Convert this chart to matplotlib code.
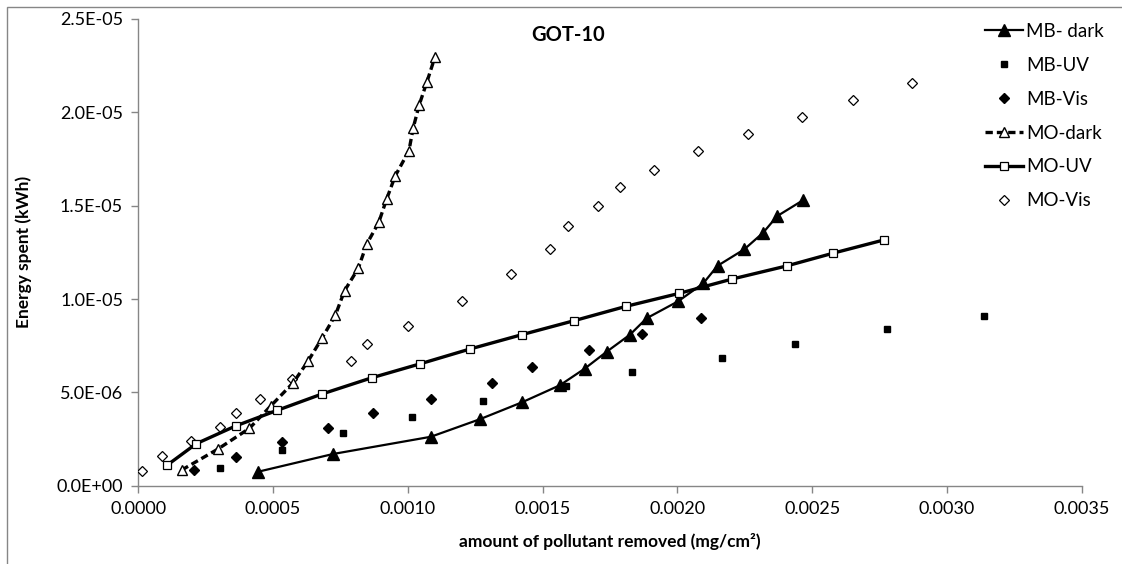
import matplotlib
matplotlib.use("Agg")
import matplotlib.pyplot as plt
from matplotlib.patches import Rectangle

plt.rcParams['font.family'] = ['Lato', 'DejaVu Sans']

# ---------------- data ----------------
mb_dark_x = [0.000445, 0.000723, 0.001085, 0.001267, 0.001424, 0.001564, 0.001656, 0.001738,
             0.001824, 0.001886, 0.002003, 0.002096, 0.002149, 0.002248, 0.002318, 0.002370, 0.002467]
mb_dark_y = [7.5e-7, 1.70e-6, 2.62e-6, 3.56e-6, 4.47e-6, 5.38e-6, 6.27e-6, 7.18e-6,
             8.09e-6, 8.97e-6, 9.88e-6, 1.084e-5, 1.178e-5, 1.266e-5, 1.355e-5, 1.444e-5, 1.53e-5]

mb_uv_x = [0.000302, 0.000533, 0.000759, 0.001014, 0.001279, 0.001585, 0.001831, 0.002165,
           0.002436, 0.002776, 0.003139]
mb_uv_y = [9.5e-7, 1.91e-6, 2.84e-6, 3.70e-6, 4.52e-6, 5.34e-6, 6.09e-6, 6.84e-6,
           7.61e-6, 8.38e-6, 9.07e-6]

mb_vis_x = [0.000208, 0.000361, 0.000534, 0.000705, 0.000869, 0.001085, 0.001313, 0.001461,
            0.001672, 0.001870, 0.002086]
mb_vis_y = [8.2e-7, 1.55e-6, 2.36e-6, 3.11e-6, 3.88e-6, 4.64e-6, 5.52e-6, 6.37e-6,
            7.27e-6, 8.14e-6, 9.00e-6]

mo_dark_x = [0.000161, 0.000294, 0.000412, 0.000492, 0.000575, 0.000631, 0.000681, 0.000731,
             0.000765, 0.000816, 0.000847, 0.000892, 0.000921, 0.000953, 0.001004, 0.001020,
             0.001042, 0.001071, 0.001100]
mo_dark_y = [8.4e-7, 1.95e-6, 3.07e-6, 4.28e-6, 5.52e-6, 6.70e-6, 7.89e-6, 9.13e-6,
             1.044e-5, 1.164e-5, 1.293e-5, 1.41e-5, 1.534e-5, 1.659e-5, 1.794e-5, 1.917e-5,
             2.039e-5, 2.164e-5, 2.294e-5]

mo_uv_x = [0.000108, 0.000215, 0.000361, 0.000516, 0.000681, 0.000866, 0.001046, 0.001230,
           0.001423, 0.001617, 0.001810, 0.002006, 0.002203, 0.002405, 0.002579, 0.002765]
mo_uv_y = [1.11e-6, 2.25e-6, 3.20e-6, 4.04e-6, 4.91e-6, 5.78e-6, 6.53e-6, 7.32e-6,
           8.09e-6, 8.84e-6, 9.61e-6, 1.03e-5, 1.107e-5, 1.177e-5, 1.246e-5, 1.316e-5]

mo_vis_x = [0.0000148, 0.000089, 0.000195, 0.000302, 0.000361, 0.000453, 0.000570, 0.000788,
            0.000847, 0.000999, 0.001200, 0.001382, 0.001528, 0.001596, 0.001706, 0.001786,
            0.001913, 0.002077, 0.002261, 0.002461, 0.002653, 0.002869]
mo_vis_y = [7.9e-7, 1.59e-6, 2.38e-6, 3.13e-6, 3.88e-6, 4.63e-6, 5.71e-6, 6.68e-6,
            7.59e-6, 8.54e-6, 9.91e-6, 1.134e-5, 1.266e-5, 1.391e-5, 1.498e-5, 1.598e-5,
            1.691e-5, 1.791e-5, 1.882e-5, 1.973e-5, 2.066e-5, 2.157e-5]

x_ticks = [0.0, 0.0005, 0.0010, 0.0015, 0.0020, 0.0025, 0.0030, 0.0035]
x_tick_labels = ['0.0000', '0.0005', '0.0010', '0.0015', '0.0020', '0.0025', '0.0030', '0.0035']
y_ticks = [0.0, 5e-6, 1e-5, 1.5e-5, 2e-5, 2.5e-5]
y_tick_labels = ['0.0E+00', '5.0E-06', '1.0E-05', '1.5E-05', '2.0E-05', '2.5E-05']

# ---------------- figure ----------------
W, H = 1122, 564
fig = plt.figure(figsize=(W / 100, H / 100), dpi=100)
ax = fig.add_axes([138.3 / W, 1 - 485.7 / H, (1081.7 - 138.3) / W, (485.7 - 19) / H])

gray = '#868686'

ax.plot(mb_dark_x, mb_dark_y, '-', color='black', lw=1.6, marker='^', ms=8.5,
        mfc='black', mec='black', label='MB- dark', zorder=4)
ax.plot(mb_uv_x, mb_uv_y, 's', color='black', ms=5, mfc='black', mec='black',
        label='MB-UV', zorder=4)
ax.plot(mb_vis_x, mb_vis_y, 'D', color='black', ms=5.5, mfc='black', mec='black',
        label='MB-Vis', zorder=4)
ax.plot(mo_dark_x, mo_dark_y, '--', color='black', lw=2.4, dashes=(2.2, 1.2), marker='^', ms=7,
        mfc='white', mec='black', mew=1.0, label='MO-dark', zorder=5)
ax.plot(mo_uv_x, mo_uv_y, '-', color='black', lw=2.4, marker='s', ms=6,
        mfc='white', mec='black', mew=0.9, label='MO-UV', zorder=5)
ax.plot(mo_vis_x, mo_vis_y, 'D', color='black', ms=5.5, mfc='white', mec='black', mew=0.9,
        label='MO-Vis', zorder=4)

ax.set_xlim(0, 0.0035)
ax.set_ylim(0, 2.5e-5)
ax.set_xticks(x_ticks)
ax.set_xticklabels(x_tick_labels)
ax.set_yticks(y_ticks)
ax.set_yticklabels(y_tick_labels)

for s in ['top', 'right']:
    ax.spines[s].set_visible(False)
for s in ['left', 'bottom']:
    ax.spines[s].set_color(gray)
    ax.spines[s].set_linewidth(1.0)
ax.tick_params(axis='both', direction='out', length=5, width=1.0, color=gray,
               labelsize=13, labelcolor='black', pad=6)

ax.set_xlabel('amount of pollutant removed (mg/cm²)', fontsize=12.5, fontweight='bold')
ax.set_ylabel('Energy spent (kWh)', fontsize=12.5, fontweight='bold')
ax.xaxis.set_label_coords(0.5, (485.7 - 542) / 466.7)
ax.yaxis.set_label_coords((24 - 138.3) / 943.4, 0.5)
ax.xaxis.label.set_va('center')
ax.yaxis.label.set_va('center')

fig.text(568 / W, 1 - 35 / H, 'GOT-10', ha='center', va='center', fontsize=14.5, fontweight='bold')

leg = fig.legend(loc='upper left', bbox_to_anchor=(985 / W, 1 - 23 / H), frameon=False,
                 fontsize=13.5, labelspacing=0.9, handlelength=2.0, handletextpad=0.2,
                 borderaxespad=0, borderpad=0)

# chart area border (left/top visible)
fig.patches.append(Rectangle((7 / W, -0.1), 1.2, 1 - 7 / H + 0.1, transform=fig.transFigure,
                             fill=False, edgecolor=gray, lw=1.0))

fig.savefig('out.png', dpi=100)
